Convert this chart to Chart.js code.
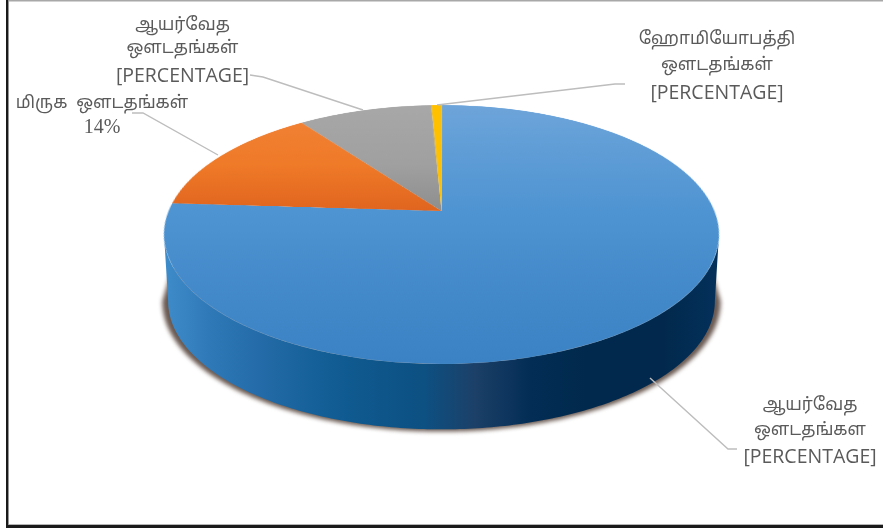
<!DOCTYPE html>
<html><head><meta charset="utf-8">
<style>html,body{margin:0;padding:0;background:#fff;overflow:hidden}#w{position:relative;width:883px;height:528px}canvas{display:block;filter:blur(0.4px)}</style>
<script src="https://cdn.jsdelivr.net/npm/chart.js@4"></script>
</head><body><div id="w"><canvas id="c" width="883" height="528"></canvas></div>
<script>
const categories = ['ஆயர்வேத ஔடதங்கள', 'மிருக ஔடதங்கள்', 'ஆயர்வேத ஔடதங்கள்', 'ஹோமியோபத்தி ஔடதங்கள்'];
const values = [76, 14, 9.3, 0.7];
const labelBottomRight = ['ஆயர்வேத', 'ஔடதங்கள', '[PERCENTAGE]'];
const labelLeft = ['மிருக  ஔடதங்கள்', '14%'];
const labelTop = ['ஆயர்வேத', 'ஔடதங்கள்', '[PERCENTAGE]'];
const labelRight = ['ஹோமியோபத்தி', 'ஔடதங்கள்', '[PERCENTAGE]'];

const W = 883, H = 528;
// perspective of the pie's disc: unit-circle v -> screen y
const P = {cx: 441.5, a: 272.9, b: 86.9, c: 211, k: 0.1815};
const sideDepth = 67;
const TAMIL = '"Noto Sans Tamil","Noto Sans","Open Sans",sans-serif';

function stops(ctx, list){
  const g = ctx.createLinearGradient(0, 0, 0, H);
  list.forEach(s => g.addColorStop(s[0], s[1]));
  return g;
}
const fills = [
  [[0,'#6ea5da'],[0.5,'#4f94d2'],[1,'#3a82c4']],
  [[0,'#f2843a'],[0.3,'#ef7a28'],[0.5,'#e0651f'],[1,'#e0651f']],
  [[0,'#a8a8a8'],[0.3,'#a0a0a0'],[0.5,'#8e8e8e'],[1,'#8e8e8e']],
  [[0,'#ffc000'],[1,'#ffc000']]
];

function project(u, v, dy, sc){
  const w = 1 - P.k * v;
  return [P.cx + sc * P.a * u / w, (P.b * v * sc + P.c) / w + dy];
}
function rim(ctx, dy, sc, from, to, first){
  const n = 200;
  for (let i = 0; i <= n; i++){
    const t = from + (to - from) * i / n;
    const p = project(Math.cos(t), Math.sin(t), dy, sc);
    if (i === 0 && first) ctx.moveTo(p[0], p[1]); else ctx.lineTo(p[0], p[1]);
  }
}
function drawSide(ctx){
  const a0 = 0.18, a1 = Math.PI - 0.18;
  ctx.save();
  // soft shadow below the wall
  ctx.save();
  ctx.filter = 'blur(2px)';
  ctx.fillStyle = '#6a5a52';
  ctx.beginPath();
  rim(ctx, 0, 1, 0.42, Math.PI - 0.42, true);
  rim(ctx, sideDepth, 1.006, a1, a0, false);
  ctx.closePath();
  ctx.fill();
  ctx.restore();
  const g = ctx.createLinearGradient(164, 0, 719, 0);
  [[0,'#3f8ccb'],[0.08,'#3079b8'],[0.2,'#1f68a4'],[0.33,'#0f5a90'],[0.47,'#0d5082'],[0.56,'#1c4068'],[0.66,'#032d55'],[0.76,'#01294d'],[0.9,'#02294d'],[1,'#03305a']]
    .forEach(s => g.addColorStop(s[0], s[1]));
  ctx.fillStyle = g;
  ctx.beginPath();
  rim(ctx, 0, 1, a0, a1, true);
  rim(ctx, sideDepth, 0.985, a1, a0, false);
  ctx.closePath();
  ctx.fill();
  ctx.restore();
}

const warp = {
  id: 'warp',
  afterDatasetsDraw(chart){
    const ctx = chart.ctx, arc = chart.getDatasetMeta(0).data[0];
    const R = arc.outerRadius, sx = arc.x, sy = arc.y;
    const off = document.createElement('canvas');
    off.width = W; off.height = H;
    off.getContext('2d').drawImage(ctx.canvas, 0, 0);
    ctx.clearRect(0, 0, W, H);
    drawSide(ctx);
    ctx.save();
    ctx.imageSmoothingEnabled = true;
    ctx.imageSmoothingQuality = 'high';
    const y0 = Math.floor((-P.b + P.c) / (1 + P.k)), y1 = Math.ceil((P.b + P.c) / (1 - P.k));
    const inv = y => (y - P.c) / (P.b + y * P.k);
    for (let y = y0; y <= y1; y++){
      const v0 = inv(y), v1 = inv(y + 1), vm = inv(y + 0.5);
      const s = P.a / ((1 - P.k * vm) * R);
      const srcY = sy + R * v0, srcH = Math.max(R * (v1 - v0), 0.5);
      ctx.drawImage(off, 0, srcY, W, srcH, P.cx - sx * s, y, W * s, 1);
    }
    ctx.restore();
  },
  afterDraw(chart){
    const ctx = chart.ctx;
    ctx.save();
    // frame
    ctx.fillStyle = '#a8a8a8'; ctx.fillRect(7, 0, W - 7, 1.5);
    ctx.fillStyle = '#b5b5b5'; ctx.fillRect(8, H - 4, W - 8, 1); ctx.fillRect(8, 0, 1, H);
    ctx.fillStyle = '#1a1a1a'; ctx.fillRect(6, 0, 2.2, H);
    ctx.fillRect(6, H - 3, W - 6, 3);
    // leaders
    ctx.strokeStyle = '#bdbdbd'; ctx.lineWidth = 1.4;
    [[[250,75],[263,77],[363,110]],[[132,113],[143,113],[218,155]],[[625,84],[615,84],[437,105]],[[737,449],[728,449],[650,378]]]
    .forEach(l => { ctx.beginPath(); l.forEach((p,i)=> i?ctx.lineTo(p[0],p[1]):ctx.moveTo(p[0],p[1])); ctx.stroke(); });
    // labels
    ctx.fillStyle = '#5a5a5a'; ctx.textAlign = 'center'; ctx.textBaseline = 'middle';
    const put = (lines, x, ys) => lines.forEach((t,i) => {
      ctx.font = /\[/.test(t) ? '19.5px "Open Sans",sans-serif' : (/%/.test(t) ? '20px "Liberation Serif",serif' : '17.2px ' + TAMIL);
      ctx.fillText(t, x, ys[i]);
    });
    put(labelTop, 182.5, [27, 50, 76]);
    put(labelLeft, 102, [105, 128]);
    put(labelRight, 717, [41, 67, 93]);
    put(labelBottomRight, 810, [407, 432, 457]);
    ctx.restore();
  }
};
new Chart(document.getElementById('c').getContext('2d'), {
  type: 'pie',
  data: { labels: categories, datasets: [{
    data: values, borderWidth: 0,
    backgroundColor: c => stops(c.chart.ctx, fills[c.dataIndex])
  }]},
  options: { responsive: false, animation: false, layout: {padding: 0},
    plugins: { legend: {display: false}, tooltip: {enabled: false} } },
  plugins: [warp]
});
</script></body></html>
